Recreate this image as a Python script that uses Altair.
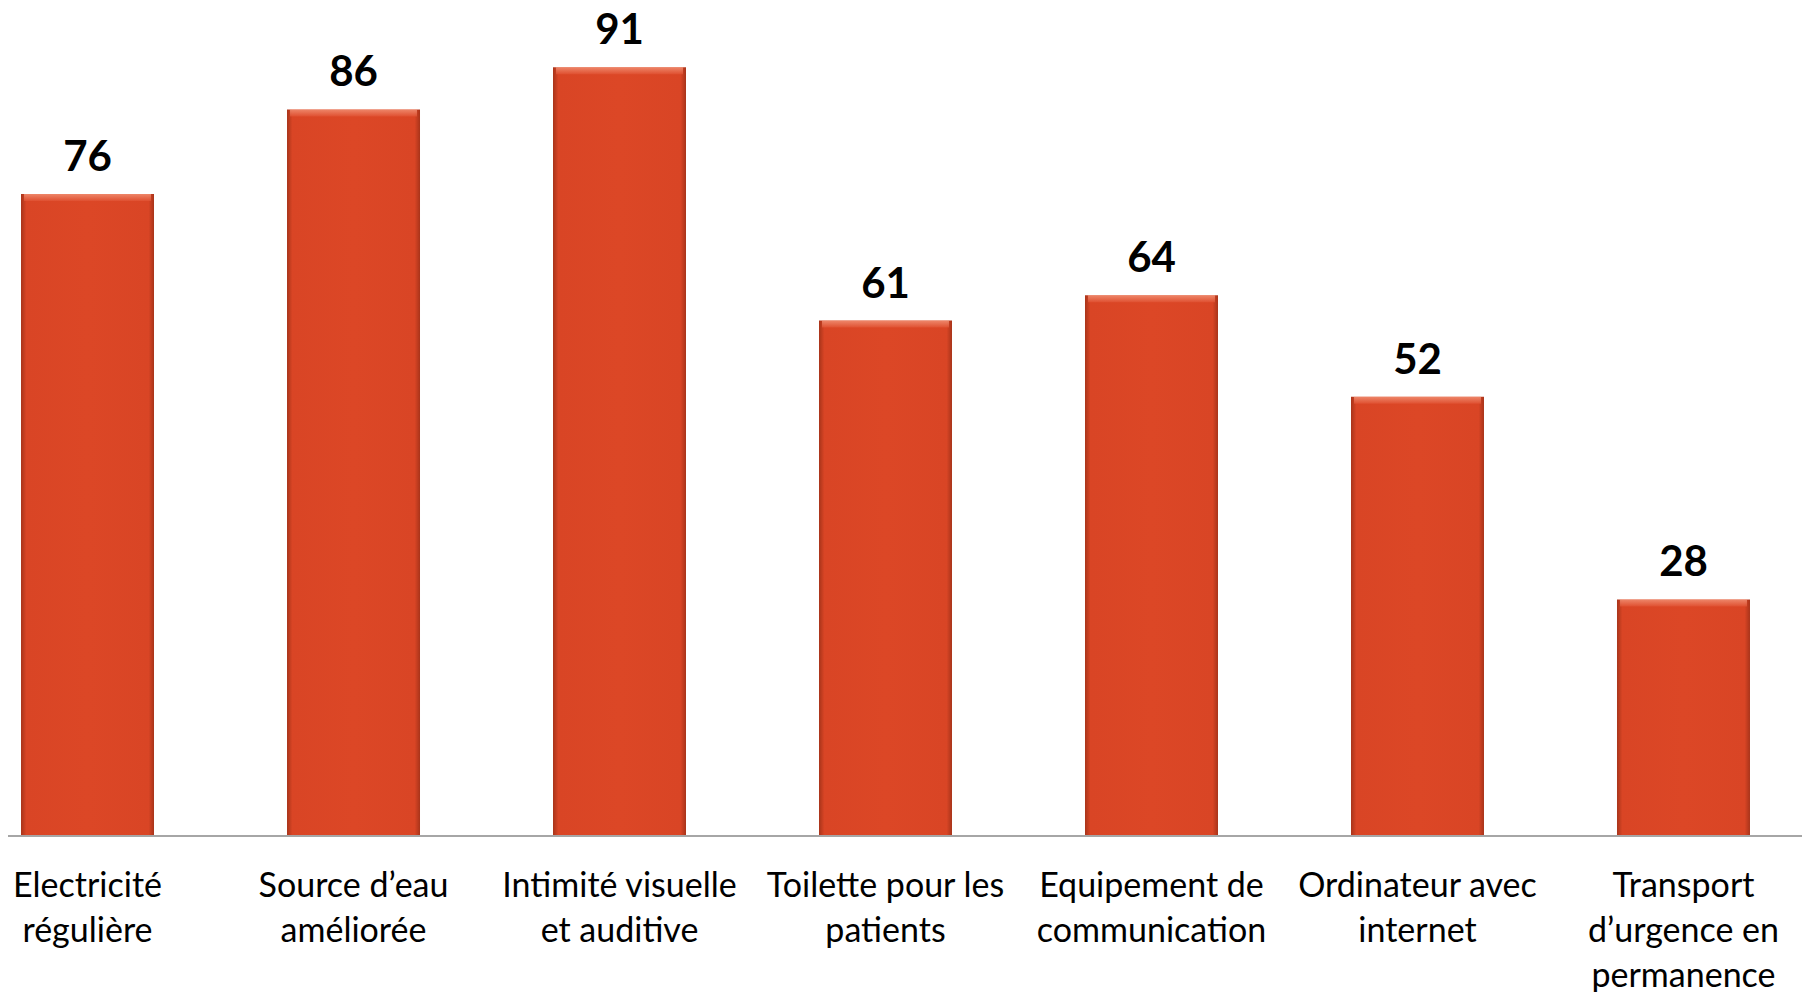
import altair as alt
import pandas as pd

categories = [
    "Electricité|régulière",
    "Source d’eau|améliorée",
    "Intimité visuelle|et auditive",
    "Toilette pour les|patients",
    "Equipement de|communication",
    "Ordinateur avec|internet",
    "Transport|d’urgence en|permanence",
]
values = [76, 86, 91, 61, 64, 52, 28]

df = pd.DataFrame({"cat": categories, "val": values})

W, H = 1755, 828
xscale = alt.Scale(paddingInner=0.5, paddingOuter=0.0489)
yscale = alt.Scale(domain=[0, 98], nice=False, zero=True)

base = alt.Chart(df).encode(
    x=alt.X("cat:N", sort=None, scale=xscale,
            axis=alt.Axis(title=None, domain=False, ticks=False, tickSize=0,
                          labelAngle=0, labelPadding=60, labelBaseline="alphabetic",
                          labelFont="Lato", labelFontSize=34, labelColor="#000000",
                          labelLineHeight=45, labelExpr="split(datum.label, '|')",
                          labelLimit=400)),
    y=alt.Y("val:Q", scale=yscale, axis=None),
)

grad = alt.LinearGradient(
    gradient="linear", x1=0, x2=1, y1=0, y2=0,
    stops=[
        alt.GradientStop(color="#A8341A", offset=0),
        alt.GradientStop(color="#D94525", offset=0.04),
        alt.GradientStop(color="#DC4726", offset=0.5),
        alt.GradientStop(color="#D94525", offset=0.96),
        alt.GradientStop(color="#A8341A", offset=1),
    ],
)

bars = base.mark_bar(color=grad)

bevel = base.mark_tick(
    orient="horizontal", size=127, thickness=7, yOffset=3.5,
    color=alt.LinearGradient(
        gradient="linear", x1=0, x2=0, y1=0, y2=1,
        stops=[
            alt.GradientStop(color="#F6A287", offset=0),
            alt.GradientStop(color="#E25536", offset=1),
        ],
    ),
)

labels = base.mark_text(
    font="Lato", fontSize=42, fontWeight="bold", color="#000000",
    baseline="alphabetic", dy=-23,
).encode(text="val:Q")

axis_line = alt.Chart(df).mark_rule(color="#A6A6A6", strokeWidth=1.5).encode(
    x=alt.value(0), x2=alt.value(1794), y=alt.value(H)
)

chart = (bars + bevel + labels + axis_line).properties(
    width=W, height=H,
    autosize=alt.AutoSizeParams(type="none"),
    padding={"left": 0, "right": 39, "top": 0, "bottom": 158},
).configure(background="#FFFFFF").configure_view(stroke=None, strokeWidth=0)

chart.save("out.html", embed_options={"renderer": "svg", "actions": False})
